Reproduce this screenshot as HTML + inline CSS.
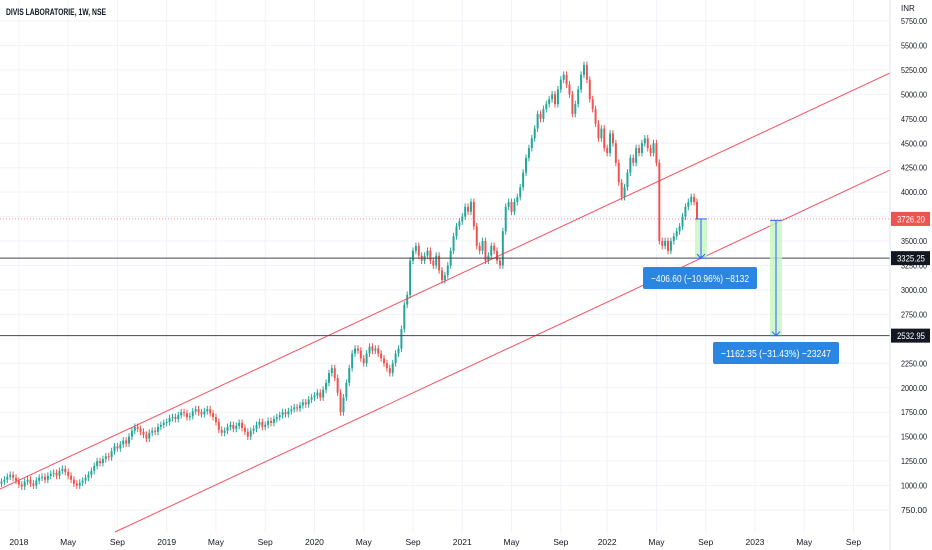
<!DOCTYPE html>
<html><head><meta charset="utf-8"><style>
html,body{margin:0;padding:0;background:#fff;width:932px;height:550px;overflow:hidden}
svg{display:block;font-family:"Liberation Sans",sans-serif}
</style></head><body>
<svg id="chart" width="932" height="550">
<g id="grid"></g>
<g id="candles"></g>
<g id="draw"></g>
<g id="axes"></g>
<text x="6" y="15" font-size="9.5" font-weight="bold" fill="#131722" textLength="100" lengthAdjust="spacingAndGlyphs">DIVIS LABORATORIE, 1W, NSE</text>
</svg>
<script>
const closes=[1040,1060,1090,1110,1080,1050,
1010,990,1040,1060,1020,1000,1050,1080,1090,1060,1100,1120,1130,1100,1150,1170,1140,1100,1060,1020,1000,1030,1050,1080,1110,1150,1200,1250,1230,1270,1300,1290,1350,1400,1380,1420,1460,1430,1500,1560,1600,1580,1550,1520,1480,1540,1560,1550,1600,1620,1640,
1650,1690,1700,1680,1720,1750,1740,1700,1710,1760,1780,1750,1730,1760,1780,1740,1700,1650,1570,1540,1560,1600,1620,1580,1610,1640,1590,1550,1500,1560,1580,1620,1650,1600,1620,1660,1640,1680,1700,1720,1750,1730,1760,1780,1800,1790,1820,1850,1830,1880,1900,
1920,1950,1900,1980,2050,2150,2200,2100,1950,1750,1900,2050,2200,2350,2400,2380,2300,2250,2350,2420,2380,2400,2350,2300,2250,2200,2150,2250,2350,2400,2600,2850,2950,3300,3400,3450,3350,3300,3350,3400,3300,3250,3350,3200,3100,3150,3250,3400,3550,3650,3700,
3750,3850,3800,3900,3650,3450,3400,3500,3300,3350,3450,3400,3300,3250,3600,3850,3900,3800,3900,3950,4050,4200,4350,4450,4550,4650,4800,4750,4850,4900,4950,5000,4900,5050,5150,5200,5100,5000,4800,4900,5050,5200,5300,5150,4950,4850,4700,4550,4650,4450,
4400,4600,4500,4300,4100,3950,4050,4200,4350,4300,4450,4400,4500,4550,4450,4400,4500,4300,3500,3450,3500,3400,3500,3550,3600,3650,3750,3850,3900,3950,3900,3726];
const priceTicks=[750,1000,1250,1500,1750,2000,2250,2500,2750,3000,3250,3500,3750,4000,4250,4500,4750,5000,5250,5500,5750];
const timeLabels=["2018","May","Sep","2019","May","Sep","2020","May","Sep","2021","May","Sep","2022","May","Sep","2023","May","Sep"];
const timeLabelIdx=[6,23,40,57,74,91,108,125,142,159,176,193,209,226,243,260,277,294];
const hLevels=[3325.25,2532.95];
const lastPrice=3726.20;
const NS="http://www.w3.org/2000/svg";
const y=p=>21+(5750-p)*0.0978;
const x=i=>1.5+i*(695.5/240);
function mk(tag,attrs,parent){const e=document.createElementNS(NS,tag);for(const k in attrs)e.setAttribute(k,attrs[k]);parent.appendChild(e);return e;}
const G=document.getElementById('grid'),C=document.getElementById('candles'),D=document.getElementById('draw'),A=document.getElementById('axes');
priceTicks.forEach(p=>{const l=mk('line',{x1:0,x2:890,y1:y(p),y2:y(p),stroke:'#f0f3fa'},G);

});
timeLabelIdx.forEach((ix,k)=>{const l=mk('line',{x1:x(ix),x2:x(ix),y1:0,y2:533,stroke:'#f0f3fa'},G);


const t=mk('text',{x:x(ix),y:545,'font-size':8.5,'text-anchor':'middle',fill:'#131722'},A);t.textContent=timeLabels[k];

});
closes.forEach((c,i)=>{const o=i?closes[i-1]:c-20;const up=c>=o;const col=up?'#26a69a':'#ef5350';
const hi=Math.max(o,c)+35,lo=Math.min(o,c)-35;const xx=x(i);
const w=mk('line',{x1:xx,x2:xx,y1:y(hi),y2:y(lo),stroke:col,'stroke-width':1},C);


const top=y(Math.max(o,c)),h=Math.max(1,y(Math.min(o,c))-top);
const r=mk('rect',{x:xx-1,y:top,width:2,height:h,fill:col},C);

});
const l1=mk('line',{x1:0,y1:489,x2:890,y2:73,stroke:'#f23645','stroke-width':1,opacity:0.85},D);


const l2=mk('line',{x1:115,y1:532,x2:890,y2:170,stroke:'#f23645','stroke-width':1,opacity:0.85},D);


const lp=mk('line',{x1:0,x2:890,y1:y(lastPrice),y2:y(lastPrice),stroke:'#ef5350','stroke-dasharray':'1,2',opacity:0.6},D);


hLevels.forEach(p=>{const l=mk('line',{x1:0,x2:890,y1:y(p),y2:y(p),stroke:'#434651','stroke-width':1},D);

});
function measure(mx,p1,p2,bx,by,bw,txt,name){
const r=mk('rect',{x:mx-6,y:y(p1),width:12,height:y(p2)-y(p1),fill:'#c8f5c0',opacity:0.8},D);


const l=mk('line',{x1:mx,x2:mx,y1:y(p1),y2:y(p2),stroke:'#2962ff','stroke-width':1},D);


mk('line',{x1:mx-6,x2:mx+6,y1:y(p1),y2:y(p1),stroke:'#2962ff'},D);
mk('line',{x1:mx-6,x2:mx+6,y1:y(p2),y2:y(p2),stroke:'#2962ff'},D);
mk('path',{d:`M${mx-4},${y(p2)-4}L${mx},${y(p2)}L${mx+4},${y(p2)-4}`,stroke:'#2962ff',fill:'none'},D);
const b=mk('rect',{x:bx,y:by,width:bw,height:22,rx:2,fill:'#2a86e0'},D);


const t=mk('text',{x:bx+8,y:by+15,'font-size':10.5,fill:'#fff',textLength:bw-16,lengthAdjust:'spacingAndGlyphs'},D);t.textContent=txt;

}
measure(701,lastPrice,3325.25,643,267,114,'\u2212406.60 (\u221210.96%) \u22128132','measure-short');
measure(776,3712,2532.95,713,342,126,'\u22121162.35 (\u221231.43%) \u221223247','measure-long');
mk('rect',{x:890,y:0,width:42,height:550,fill:'#fff'},A);
const sep=mk('line',{x1:890,x2:890,y1:0,y2:550,stroke:'#e0e3eb'},A);


const inr=mk('text',{x:901,y:11,'font-size':8,fill:'#131722'},A);inr.textContent='INR';


priceTicks.forEach(p=>{const t=mk('text',{x:901,y:y(p)+3,'font-size':8.5,fill:'#131722',textLength:26,lengthAdjust:'spacingAndGlyphs'},A);t.textContent=p.toFixed(2);

});
function tag(p,fill,name){const r=mk('rect',{x:891,y:y(p)-7,width:39,height:14,fill:fill},A);


const t=mk('text',{x:897,y:y(p)+3.5,'font-size':9,fill:'#fff',textLength:28,lengthAdjust:'spacingAndGlyphs'},A);t.textContent=p.toFixed(2);}
tag(lastPrice,'#ef5350','last-price-tag');
tag(3325.25,'#131722','level-tag-3325');
tag(2532.95,'#131722','level-tag-2532');
</script>
</body></html>
